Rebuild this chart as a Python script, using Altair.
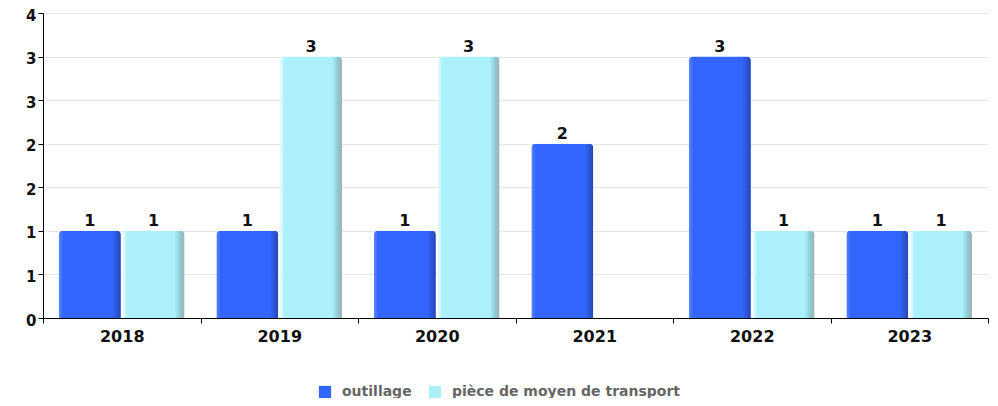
import altair as alt
import pandas as pd

years = ["2018", "2019", "2020", "2021", "2022", "2023"]
series = ["outillage", "pièce de moyen de transport"]
outillage = [1, 1, 1, 2, 3, 1]
piece = [1, 3, 3, None, 1, 1]
y_ticks = [0, 0.5, 1, 1.5, 2, 2.5, 3, 3.5]
colors = ["#3366ff", "#acf0fb"]

rows = []
for i, yr in enumerate(years):
    if outillage[i] is not None:
        rows.append({"year": yr, "series": series[0], "value": outillage[i]})
    if piece[i] is not None:
        rows.append({"year": yr, "series": series[1], "value": piece[i]})
df = pd.DataFrame(rows)

font = "DejaVu Sans"

x = alt.X("year:N", sort=years, title=None,
          scale=alt.Scale(paddingInner=0, paddingOuter=0),
          axis=alt.Axis(labelAngle=0, labelFont=font, labelFontWeight="bold",
                        labelFontSize=16, labelColor="#111", labelPadding=5,
                        domainColor="#000", tickColor="#000", tickSize=5,
                        tickBand="extent", grid=False))
xoff = alt.XOffset("series:N", sort=series,
                   scale=alt.Scale(domain=series, paddingInner=0.03, paddingOuter=0.25))
y = alt.Y("value:Q", title=None,
          scale=alt.Scale(domain=[0, 3.5], nice=False),
          axis=alt.Axis(values=y_ticks, labelExpr="round(datum.value)",
                        labelFont=font, labelFontWeight="bold", labelFontSize=15,
                        labelColor="#111", labelPadding=2, labelOffset=2,
                        domainColor="#000", tickColor="#000", tickSize=5,
                        gridColor="#e6e6e6"))

base = alt.Chart(df)

legend_bars = base.mark_bar(cornerRadiusTopLeft=4, cornerRadiusTopRight=4).encode(
    x=x, xOffset=xoff, y=y,
    color=alt.Color("series:N", sort=series,
                    scale=alt.Scale(domain=series, range=colors),
                    legend=alt.Legend(title=None, orient="none", direction="horizontal",
                                      legendX=275, legendY=372,
                                      symbolType="square", symbolSize=150,
                                      symbolStrokeWidth=0,
                                      labelFont=font, labelFontWeight="bold",
                                      labelFontSize=14, labelColor="#666",
                                      labelLimit=0,
                                      columnPadding=16, labelOffset=10)),
)

grad_blue = alt.Gradient(
    gradient="linear", x1=0, x2=1, y1=0, y2=0,
    stops=[alt.GradientStop(offset=0, color="#5a86ff"),
           alt.GradientStop(offset=0.07, color="#3366ff"),
           alt.GradientStop(offset=0.86, color="#3366ff"),
           alt.GradientStop(offset=0.95, color="#2a52cc"),
           alt.GradientStop(offset=1, color="#2446b4")])
grad_cyan = alt.Gradient(
    gradient="linear", x1=0, x2=1, y1=0, y2=0,
    stops=[alt.GradientStop(offset=0, color="#f4feff"),
           alt.GradientStop(offset=0.07, color="#acf0fb"),
           alt.GradientStop(offset=0.84, color="#acf0fb"),
           alt.GradientStop(offset=0.93, color="#8ccad3"),
           alt.GradientStop(offset=1, color="#a3b0b2")])

blue_layer = base.transform_filter(alt.datum.series == series[0]).mark_bar(
    fill=grad_blue, cornerRadiusTopLeft=4, cornerRadiusTopRight=4
).encode(x=x, xOffset=xoff, y=y)
cyan_layer = base.transform_filter(alt.datum.series == series[1]).mark_bar(
    fill=grad_cyan, cornerRadiusTopLeft=4, cornerRadiusTopRight=4
).encode(x=x, xOffset=xoff, y=y)

labels = base.mark_text(dy=-10, font=font, fontWeight="bold", fontSize=16,
                        color="#111").encode(
    x=x, xOffset=xoff, y=y, text=alt.Text("value:Q", format=".0f"))

chart = alt.layer(legend_bars, blue_layer, cyan_layer, labels).properties(
    width=945, height=305,
    autosize=alt.AutoSizeParams(type="none"),
    padding={"left": 35, "top": 5, "right": 2, "bottom": 80},
).configure_view(stroke=None)

chart.save("out.html", embed_options={"renderer": "svg", "actions": False})
